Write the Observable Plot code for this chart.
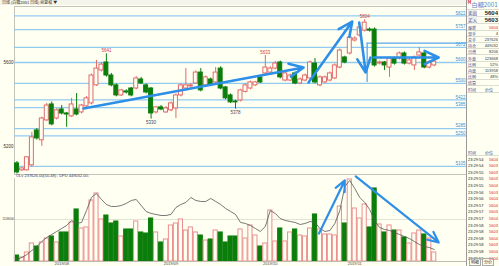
<!DOCTYPE html>
<html><head><meta charset="utf-8">
<script src="https://cdn.jsdelivr.net/npm/d3@7"></script>
<script src="https://cdn.jsdelivr.net/npm/@observablehq/plot@0.6"></script>
<style>
html,body{margin:0;padding:0}
body{width:499px;height:266px;overflow:hidden;position:relative;background:#fffff2;font-family:"Liberation Sans","DejaVu Sans",sans-serif}
#topbar{position:absolute;left:0;top:0;width:466px;height:5px;font-size:4px;line-height:5px;color:#333;white-space:nowrap;padding-left:2px;font-family:"Noto Sans CJK SC",sans-serif;background:#f4f4ea}
#price{position:absolute;left:0;top:0}
#vol{position:absolute;left:0;top:170px}
#volinfo{position:absolute;left:16px;top:174px;font-size:4px;line-height:4px;color:#33336a;white-space:nowrap}
#panel{position:absolute;left:466px;top:0;width:33px;height:266px;border-left:1px solid #9a9a9a;box-sizing:border-box;background:#fffff2;font-family:"Noto Sans CJK SC",sans-serif;overflow:hidden}
#panel .r{position:absolute;left:0;width:32px;box-sizing:border-box;border-bottom:1px solid #dcdcd0;white-space:nowrap}
#panel .lab{position:absolute;left:1px;color:#3a4a8a}
#panel .val{position:absolute;right:1px;color:#222;font-family:"Liberation Sans",sans-serif}
</style>
</head><body>
<div id="topbar">日线 (白糖2001 日线)  前复权 ▼</div>
<div id="price"></div>
<div id="vol"></div>
<div id="volinfo">OLv 237626.00(50.48)↓  DPD 449032.00↓</div>
<div id="panel"></div>
<script>
// ---- data ----
const open  = [5119,5086,5086,5110,5276,5229,5324,5400,5333,5376, 5357,5343,5376,5362,5391,5405,5491,5562,5600,5538, 5491,5443,5462,5476,5476,5519,5491,5476,5362,5386, 5362,5372,5381,5443,5476,5486,5500,5552,5491,5519, 5505,5571,5481,5443,5414,5419,5460,5476,5491,5529, 5548,5552,5571,5600,5514,5514,5548,5500,5514,5524, 5595,5491,5505,5514,5524,5576,5624,5643,5705,5729, 5752,5757,5757,5595,5600,5576,5619,5619,5643,5595, 5586,5633,5643,5576,5586];
const high  = [5128,5100,5152,5267,5285,5340,5405,5412,5380,5395, 5362,5429,5452,5400,5438,5545,5610,5600,5641,5548, 5498,5472,5470,5481,5533,5529,5498,5481,5391,5395, 5390,5412,5450,5498,5571,5500,5560,5571,5536,5526, 5576,5580,5486,5450,5420,5472,5498,5512,5510,5536, 5633,5580,5605,5607,5555,5545,5555,5526,5545,5607, 5619,5536,5536,5555,5593,5665,5630,5726,5722,5775, 5804,5765,5765,5607,5605,5626,5626,5650,5650,5617, 5631,5671,5650,5607,5612];
const low   = [5068,5080,5082,5100,5230,5200,5318,5298,5326,5350, 5291,5338,5346,5355,5384,5398,5486,5555,5530,5484, 5436,5438,5450,5436,5470,5495,5450,5330,5355,5370, 5357,5365,5333,5436,5470,5476,5495,5460,5484,5486, 5498,5470,5422,5404,5378,5412,5455,5470,5486,5500, 5540,5545,5565,5522,5508,5508,5494,5494,5508,5518, 5498,5484,5500,5508,5518,5570,5594,5636,5698,5722, 5745,5745,5578,5588,5562,5529,5588,5612,5588,5588, 5562,5626,5570,5570,5580];
const close = [5076,5095,5148,5243,5238,5333,5395,5305,5372,5357, 5352,5400,5352,5395,5429,5538,5571,5590,5538,5491, 5443,5467,5457,5443,5524,5500,5457,5357,5386,5376, 5381,5405,5443,5491,5491,5491,5552,5467,5529,5491, 5552,5476,5429,5410,5410,5467,5491,5505,5505,5505, 5576,5571,5595,5529,5548,5538,5500,5519,5538,5600, 5505,5529,5529,5548,5586,5657,5600,5719,5714,5767, 5790,5752,5586,5600,5586,5619,5595,5643,5595,5610, 5624,5648,5576,5600,5604];
const volume = [158000,106000,238000,475000,396000,502000,607000,660000,502000,766000, 766000,1030000,1373000,871000,898000,1610000,1795000,1109000,1214000,1003000, 1056000,660000,845000,845000,1056000,766000,739000,1135000,766000,502000, 581000,950000,1003000,1109000,818000,898000,766000,686000,554000,581000, 818000,766000,502000,660000,660000,845000,607000,950000,686000,396000, 475000,1346000,528000,871000,528000,766000,845000,686000,660000,871000, 1241000,845000,713000,713000,686000,1452000,1003000,2165000,1399000,1135000, 1505000,898000,1927000,977000,766000,950000,818000,818000,634000,475000, 739000,818000,713000,607000,237626];
const oiLine = [53000,106000,185000,290000,396000,528000,634000,713000,792000,871000, 950000,1082000,1003000,1030000,1346000,1690000,1795000,1637000,1505000,1452000, 1452000,1478000,1531000,1610000,1637000,1478000,1320000,1267000,1241000,1214000, 1214000,1241000,1426000,1505000,1558000,1690000,1610000,1584000,1584000,1663000, 1584000,1505000,1399000,1320000,1241000,1030000,1003000,950000,871000,792000, 924000,1346000,1267000,1135000,1082000,1056000,1030000,977000,1003000,1056000, 1030000,871000,792000,818000,1003000,1346000,1980000,2138000,1927000,1690000, 1558000,1373000,1082000,898000,845000,818000,766000,713000,660000,607000, 528000,449000,396000,370000,317000];

const dateTickIdx = [9, 31, 51, 68];
const dateTickLabels = ["2019/08", "2019/09", "2019/10", "2019/11"];
const priceTicks = [5200, 5600];
const levels = [5822, 5757, 5672, 5600, 5500, 5422, 5385, 5285, 5250, 5105];
const peakIdx = [18, 50, 70];
const troughIdx = [27, 44];
const volTicks = [1109000];

// hand-drawn annotations, in (bar index, price) / (bar index, volume) units
const priceArrows = [
  {x1: 13.4, y1: 5381, x2: 57.7, y2: 5576},
  {x1: 58.7, y1: 5505, x2: 67.5, y2: 5795},
  {x1: 68.9, y1: 5791, x2: 70.2, y2: 5552},
  {x1: 71.8, y1: 5624, x2: 84.9, y2: 5624}
];
const boxTop = 5692, boxBottom = 5505, boxLeft = 70.5;
const volArrows = [
  {x1: 60.8, y1: 739000, x2: 66.0, y2: 2138000},
  {x1: 68.2, y1: 2244000, x2: 84.9, y2: 502000}
];

const quoteLabels = ["最新","现手","总手","持仓","日增","外盘","比例","内盘","比例","结算"];
const quoteValues = ["5604","4","237626","449032","8206","123668","52%","113958","48%",""];
const tickTimes = ["23:29:54","23:29:54","23:29:55","23:29:55","23:29:55","23:29:56","23:29:56","23:29:57","23:29:57","23:29:57","23:29:58","23:29:58","23:29:58","23:29:58","23:29:58","23:29:59"];
const tickPrices = ["5604","5603","5603","5603","5604","5603","5604","5604","5603","5604","5603","5603","5604","5603","5604","5604"];

// ---- chart ----
const RED = "#e26a6a", VRED = "#eb8f8f", GREEN = "#0b7d0b", BG = "#fffff2", BLUE = "#2e8fe8", LEVEL = "#93cbf0";
const xDom = [-0.5, 90.5];
const bars = d3.range(open.length).map(i => ({
  i, o: open[i], h: high[i], l: low[i], c: close[i], v: volume[i], m: oiLine[i], up: close[i] >= open[i]
}));
const font = "Liberation Sans, DejaVu Sans, sans-serif";

const price = Plot.plot({
  width: 466, height: 176,
  marginLeft: 14, marginRight: 0, marginTop: 6, marginBottom: 2,
  x: {domain: xDom, axis: null},
  y: {domain: [5066, 5867], ticks: priceTicks, tickSize: 0, tickPadding: 1, label: null, tickFormat: d => String(d)},
  style: {background: "transparent", fontSize: "4.5px", fontFamily: font, color: "#333", overflow: "visible"},
  marks: [
    Plot.frame({stroke: "#c4c4b8"}),
    Plot.ruleY(levels, {stroke: LEVEL, strokeWidth: 1.3}),
    Plot.text(levels, {y: d => d, text: d => String(d), frameAnchor: "right", textAnchor: "end", dx: -1, dy: -2.6, fill: "#3b8fd8", fontSize: 4.5}),
    Plot.ruleY([{y: boxTop}], {y: "y", x1: boxLeft, x2: xDom[1], stroke: "#5aa9ee", strokeWidth: 1.3}),
    Plot.ruleX([{x: boxLeft}], {x: "x", y1: boxTop, y2: boxBottom, stroke: "#5aa9ee", strokeWidth: 1.3}),
    Plot.ruleX(bars, {x: "i", y1: d => Math.max(d.o, d.c), y2: "h", stroke: d => d.up ? RED : GREEN, strokeWidth: 1}),
    Plot.ruleX(bars, {x: "i", y1: "l", y2: d => Math.min(d.o, d.c), stroke: d => d.up ? RED : GREEN, strokeWidth: 1}),
    Plot.rect(bars, {x1: d => d.i - 0.4, x2: d => d.i + 0.4, y1: d => Math.min(d.o, d.c), y2: d => Math.max(d.o, d.c),
      fill: d => d.up ? BG : GREEN, stroke: d => d.up ? RED : GREEN, strokeWidth: 1}),
    Plot.text(peakIdx.map(i => bars[i]), {x: "i", y: "h", text: d => String(d.h), dy: -3, fill: "#d23c3c", fontSize: 4.5}),
    Plot.text(troughIdx.map(i => bars[i]), {x: "i", y: "l", text: d => String(d.l), dy: 3.5, fill: "#445", fontSize: 4.5}),
    Plot.arrow(priceArrows, {x1: "x1", y1: "y1", x2: "x2", y2: "y2", stroke: BLUE, strokeWidth: 2.6, headLength: 9, headAngle: 50})
  ]
});
document.getElementById("price").appendChild(price);

const vol = Plot.plot({
  width: 466, height: 96,
  marginLeft: 14, marginRight: 0, marginTop: 8, marginBottom: 5,
  x: {domain: xDom, axis: null},
  y: {domain: [0, 2190000], axis: null},
  style: {background: "transparent", fontSize: "4px", fontFamily: font, color: "#333", overflow: "visible"},
  marks: [
    Plot.ruleY(volTicks, {stroke: "#e2e2d4", strokeWidth: 1}),
    Plot.text(volTicks, {y: d => d, text: d => String(d), frameAnchor: "left", textAnchor: "end", dx: -0.5, fill: "#333", fontSize: 3}),
    Plot.rect(bars, {x1: d => d.i - 0.42, x2: d => d.i + 0.42, y1: 0, y2: "v",
      fill: d => d.up ? BG : GREEN, stroke: d => d.up ? VRED : GREEN, strokeWidth: 1}),
    Plot.line(bars, {x: "i", y: "m", stroke: "#555", strokeWidth: 0.8}),
    Plot.ruleY([0], {stroke: "#bdbdb0"}),
    Plot.ruleX([xDom[0]], {stroke: "#c4c4b8"}),
    Plot.text(dateTickIdx.map((i, k) => ({i, t: dateTickLabels[k]})), {x: "i", text: "t", frameAnchor: "bottom", lineAnchor: "top", dy: 1, fill: "#444", fontSize: 4}),
    Plot.arrow(volArrows, {x1: "x1", y1: "y1", x2: "x2", y2: "y2", stroke: BLUE, strokeWidth: 2.2, headLength: 8, headAngle: 50})
  ]
});
document.getElementById("vol").appendChild(vol);

// ---- right quote panel ----
const panel = d3.select("#panel");
const hdr = panel.append("div").attr("class", "r").style("top", "0px").style("height", "10px");
hdr.append("span").style("position", "absolute").style("left", "0.5px").style("top", "0px")
  .style("font-size", "4.5px").style("line-height", "5px").style("color", "#d33").style("font-weight", "bold").text("M");
hdr.append("span").style("position", "absolute").style("left", "4.5px").style("top", "0px")
  .style("font-size", "6.2px").style("line-height", "10px").style("color", "#5a7fd0").text("白糖2001");
[["卖出", "5604"], ["买入", "5603"]].forEach(([l, v], k) => {
  const r = panel.append("div").attr("class", "r").style("top", (10 + k * 7) + "px").style("height", "7px").style("line-height", "7px");
  r.append("span").attr("class", "lab").style("font-size", "4.5px").style("background", "#ececec").text(l);
  r.append("span").attr("class", "val").style("font-size", "6px").style("font-weight", "bold").text(v);
});
quoteLabels.forEach((l, k) => {
  const r = panel.append("div").attr("class", "r").style("top", (24.5 + k * 6.2) + "px").style("height", "6.2px").style("line-height", "6.2px");
  r.append("span").attr("class", "lab").style("font-size", "4px").text(l);
  r.append("span").attr("class", "val").style("font-size", "4px").style("color", k === 0 ? "#d22" : "#333").text(quoteValues[k]);
});
function tickHeader(top) {
  const r = panel.append("div").attr("class", "r").style("top", top + "px").style("height", "6px").style("line-height", "6px");
  r.append("span").attr("class", "lab").style("font-size", "4px").text("时间");
  r.append("span").attr("class", "val").style("font-size", "4px").style("right", "6px").style("color", "#3a4a8a").style("font-family", "Noto Sans CJK SC").text("价位");
}
tickHeader(87);
tickHeader(150);
tickTimes.forEach((t, k) => {
  const r = panel.append("div").style("position", "absolute").style("left", "0px").style("width", "32px")
    .style("top", (156.5 + k * 6.6) + "px").style("height", "6.6px").style("line-height", "6.6px");
  r.append("span").attr("class", "lab").style("font-size", "4px").style("color", "#222").style("font-family", "Liberation Sans").text(t);
  r.append("span").attr("class", "val").style("font-size", "4px").style("color", "#d22").text(tickPrices[k]);
});
const tabs = panel.append("div").style("position", "absolute").style("left", "2px").style("top", "260px")
  .style("font-size", "4px").style("line-height", "5px").style("color", "#333").style("white-space", "nowrap");
tabs.append("span").style("border", "1px solid #aaa").style("padding", "0 1px").text("明细");
tabs.append("span").style("border", "1px solid #aaa").style("padding", "0 1px").style("margin-left", "1px").text("分价");
</script>
</body></html>
